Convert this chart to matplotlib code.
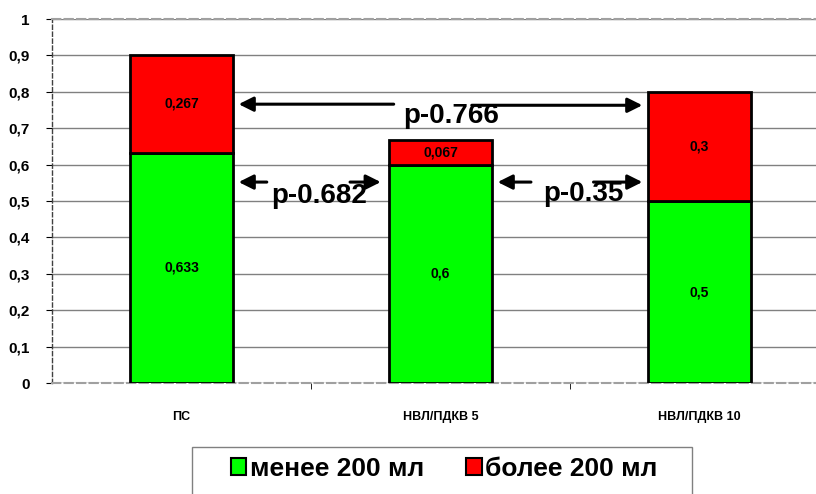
import numpy as np
import matplotlib
matplotlib.use('Agg')
import matplotlib.pyplot as plt
import matplotlib.patches as mpatches

plt.rcParams['font.family'] = ['Liberation Sans', 'DejaVu Sans']
plt.rcParams['font.weight'] = 'bold'

# Данные
groups = ['ПС', 'НВЛ/ПДКВ 5', 'НВЛ/ПДКВ 10']
less_200 = [0.633, 0.6, 0.5]
more_200 = [0.267, 0.067, 0.3]
less_labels = ['0,633', '0,6', '0,5']
more_labels = ['0,267', '0,067', '0,3']
series_names = ['менее 200 мл', 'более 200 мл']
p_texts = ['p-0.682', 'p-0.35', 'p-0.766']

W, H = 816, 494
fig = plt.figure(figsize=(W / 100, H / 100), dpi=100)
ax = fig.add_axes([52 / W, 1 - 383 / H, 777 / W, 364 / H])

x = np.arange(len(groups))
w = 0.4
green, red = '#00FF00', '#FF0000'

ax.bar(x, less_200, w, color=green, edgecolor='black', linewidth=2, zorder=3)
ax.bar(x, more_200, w, bottom=less_200, color=red, edgecolor='black', linewidth=2, zorder=3)

for i in range(len(groups)):
    ax.text(x[i], less_200[i] / 2, less_labels[i], ha='center', va='center',
            fontsize=10, fontweight='bold', zorder=4)
    ax.text(x[i], less_200[i] + more_200[i] / 2, more_labels[i], ha='center', va='center',
            fontsize=10, fontweight='bold', zorder=4)

ax.set_xlim(-0.5, 2.5)
ax.set_ylim(0, 1)
ax.set_yticks(np.arange(0, 1.01, 0.1))
ax.set_yticklabels(['0'] + [f'0,{k}' for k in range(1, 10)] + ['1'], fontsize=11, fontweight='bold')
ax.set_xticks(x)
ax.set_xticklabels(groups, fontsize=9, fontweight='bold')
ax.tick_params(axis='x', length=0, pad=20)
ax.tick_params(axis='y', length=4, pad=12)
ax.set_xticks([0.5, 1.5], minor=True)
ax.tick_params(axis='x', which='minor', length=4, direction='out')

ax.yaxis.grid(True, color='#808080', linewidth=1, zorder=0)
for sp in ['top', 'right', 'bottom']:
    ax.spines[sp].set_linestyle((0, (4, 2)))
    ax.spines[sp].set_color('#A0A0A0')
    ax.spines[sp].set_linewidth(1.5)
ax.spines['left'].set_linestyle((0, (3, 2)))
ax.spines['left'].set_color('#404040')
ax.spines['left'].set_linewidth(1)

# Стрелки p-значений
arr = dict(arrowstyle='-|>', color='black', lw=2.2, mutation_scale=22)
def arrow(x0, x1, y):
    ax.annotate('', xy=(x1, y), xytext=(x0, y), arrowprops=arr, zorder=5)

# ПС -> НВЛ/ПДКВ 10
arrow(0.83, 0.21, 0.766)
arrow(1.11, 1.79, 0.763)
ax.text(1.04, 0.733, p_texts[2], ha='center', va='center', fontsize=20, fontweight='bold', zorder=6)
# ПС -> НВЛ/ПДКВ 5
arrow(0.34, 0.21, 0.552)
arrow(0.64, 0.78, 0.552)
ax.text(0.53, 0.515, p_texts[0], ha='center', va='center', fontsize=20, fontweight='bold', zorder=6)
# НВЛ/ПДКВ 5 -> НВЛ/ПДКВ 10
arrow(1.36, 1.21, 0.552)
arrow(1.58, 1.79, 0.552)
ax.text(1.55, 0.518, p_texts[1], ha='center', va='center', fontsize=20, fontweight='bold', zorder=6)

# Легенда
fig.patches.append(mpatches.Rectangle((192 / W, 1 - 510 / H), 500 / W, 63 / H,
                                      transform=fig.transFigure, facecolor='white',
                                      edgecolor='#808080', linewidth=1))
handles = [mpatches.Patch(facecolor=green, edgecolor='black', linewidth=1.5),
           mpatches.Patch(facecolor=red, edgecolor='black', linewidth=1.5)]
fig.legend(handles, series_names, loc='center', bbox_to_anchor=(444 / W, 1 - 469 / H),
           ncol=2, frameon=False, prop={'size': 19, 'weight': 'bold'},
           handlelength=0.6, handleheight=0.6, handletextpad=0.12, columnspacing=1.6)

fig.savefig('out.png', dpi=100)
